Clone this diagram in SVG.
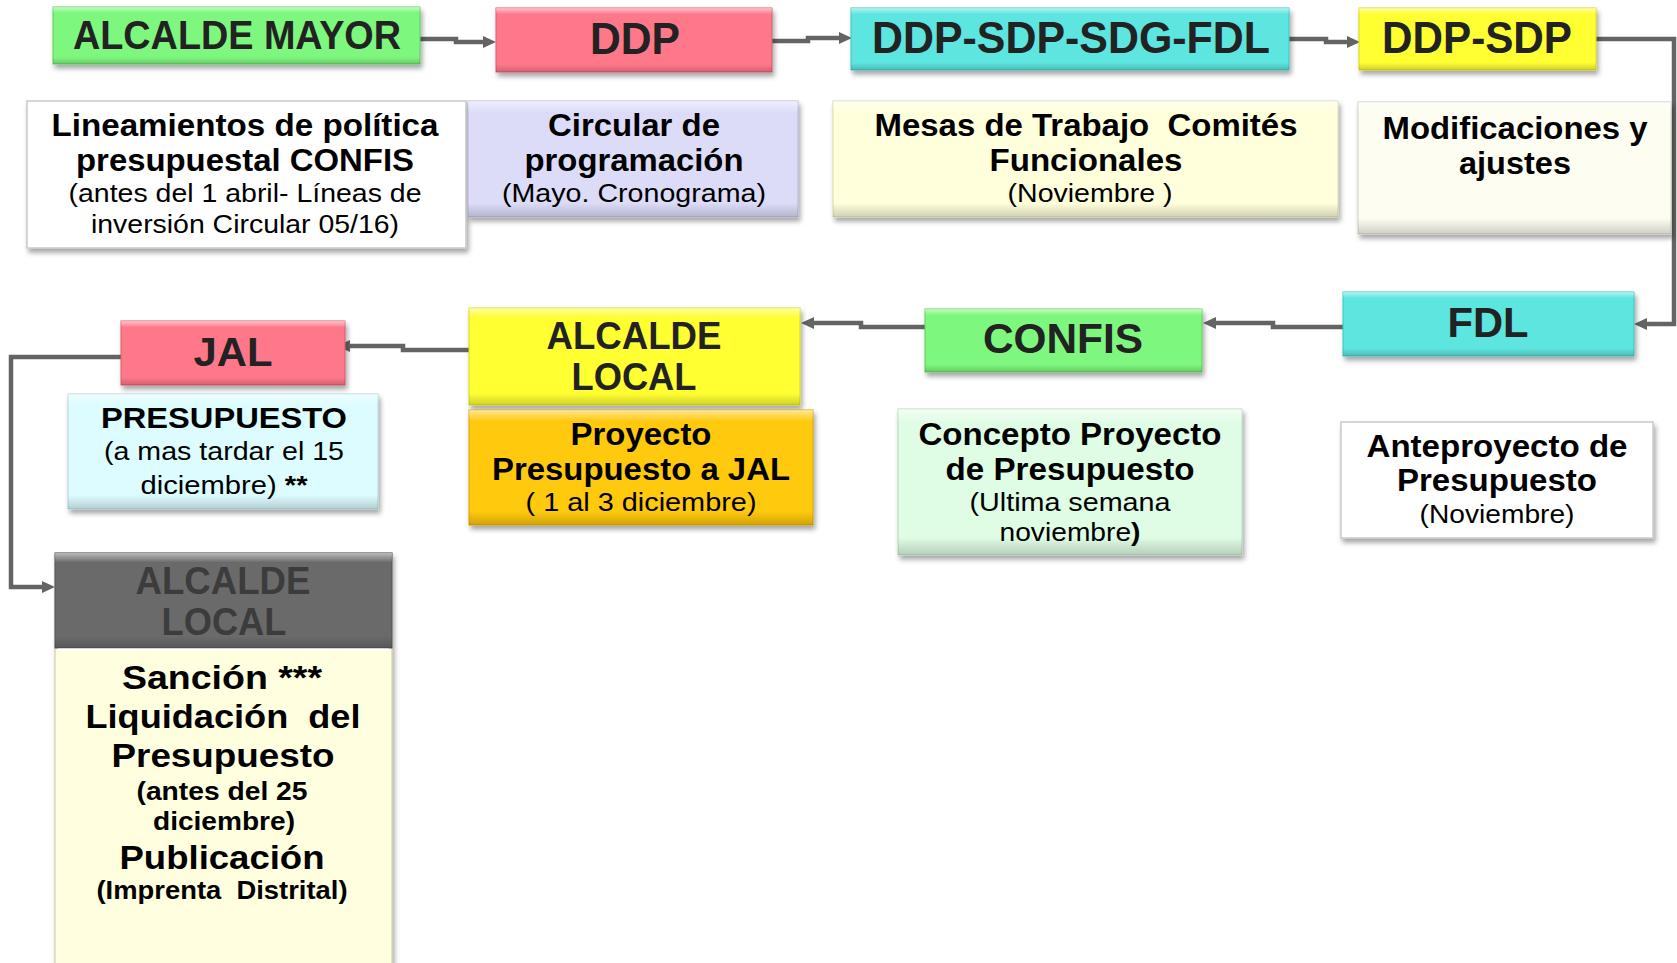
<svg xmlns="http://www.w3.org/2000/svg" width="1677" height="963" viewBox="0 0 1677 963">
<defs>
<style>
.t{font-family:"Liberation Sans",Arial,sans-serif;font-weight:bold;text-anchor:middle;fill:#000}
.h{fill:#222}
.r{font-weight:normal}
.g{fill:#3c3c3c}
.c{fill:none;stroke:#646464;stroke-width:4.5;marker-end:url(#ah)}
.bv{fill:url(#bevel)}
.tb{stroke:#c9c9c9;stroke-width:1.5}
</style>
<filter id="sh" x="-5%" y="-10%" width="115%" height="130%">
<feDropShadow dx="2" dy="4" stdDeviation="2.5" flood-color="#000" flood-opacity="0.35"/>
</filter>
<linearGradient id="bevel" x1="0" y1="0" x2="0" y2="1">
<stop offset="0" stop-color="#fff" stop-opacity="0.55"/>
<stop offset="0.1" stop-color="#fff" stop-opacity="0"/>
<stop offset="0.88" stop-color="#000" stop-opacity="0"/>
<stop offset="1" stop-color="#000" stop-opacity="0.18"/>
</linearGradient>
<marker id="ah" markerUnits="userSpaceOnUse" markerWidth="14" markerHeight="14" viewBox="0 0 14 14" refX="4" refY="7" orient="auto">
<path d="M0,1 L13,7 L0,13 z" fill="#646464"/>
</marker>
</defs>
<rect width="1677" height="963" fill="#fff"/>

<g id="connectors">
<path class="c" d="M420,39 H456 V42 H487"/>
<path class="c" d="M757,41 H808 V38 H843"/>
<path class="c" d="M1289,39 H1326 V42 H1351"/>
<path class="c" d="M1596,39 H1674 V324 H1643"/>
<path class="c" d="M1343,327 H1273 V323 H1212"/>
<path class="c" d="M925,327 H861 V323 H810"/>
<path class="c" d="M469,350 H403 V346 H346"/>
<path class="c" d="M121,357 H11 V587 H46"/>
</g>

<g id="alcalde-mayor">
<rect x="53" y="7" width="367" height="57" fill="#7ef77e" stroke="#5ccf5c" filter="url(#sh)"/>
<rect x="53" y="7" width="367" height="57" class="bv"/>
<text class="t h" x="237" y="49" font-size="40" textLength="328" lengthAdjust="spacingAndGlyphs">ALCALDE MAYOR</text>
</g>

<g id="ddp">
<rect x="496" y="8" width="276" height="64" fill="#ff7889" stroke="#d85a6a" filter="url(#sh)"/>
<rect x="496" y="8" width="276" height="64" class="bv"/>
<text class="t h" x="635" y="54" font-size="44" textLength="90" lengthAdjust="spacingAndGlyphs">DDP</text>
</g>

<g id="ddp-sdp-sdg-fdl">
<rect x="851" y="8" width="438" height="62" fill="#5de5df" stroke="#3fc3bd" filter="url(#sh)"/>
<rect x="851" y="8" width="438" height="62" class="bv"/>
<text class="t h" x="1071" y="53" font-size="44" textLength="398" lengthAdjust="spacingAndGlyphs">DDP-SDP-SDG-FDL</text>
</g>

<g id="ddp-sdp">
<rect x="1359" y="8" width="237" height="62" fill="#ffff33" stroke="#d8d820" filter="url(#sh)"/>
<rect x="1359" y="8" width="237" height="62" class="bv"/>
<text class="t h" x="1477" y="53" font-size="44" textLength="190" lengthAdjust="spacingAndGlyphs">DDP-SDP</text>
</g>

<g id="lineamientos">
<rect x="27" y="101" width="439" height="147" fill="#ffffff" class="tb" filter="url(#sh)"/>
<text class="t" x="245" y="136" font-size="31" textLength="387" lengthAdjust="spacingAndGlyphs">Lineamientos de política</text>
<text class="t" x="245" y="171" font-size="31" textLength="338" lengthAdjust="spacingAndGlyphs">presupuestal CONFIS</text>
<text class="t r" x="245" y="202" font-size="25" textLength="353" lengthAdjust="spacingAndGlyphs">(antes del 1 abril- Líneas de</text>
<text class="t r" x="245" y="233" font-size="25" textLength="308" lengthAdjust="spacingAndGlyphs">inversión Circular 05/16)</text>
</g>

<g id="circular">
<rect x="468" y="101" width="330" height="116" fill="#dcdcf8" stroke="#b5b5d8" filter="url(#sh)"/>
<rect x="468" y="101" width="330" height="116" class="bv"/>
<text class="t" x="634" y="136" font-size="31" textLength="172" lengthAdjust="spacingAndGlyphs">Circular de</text>
<text class="t" x="634" y="171" font-size="31" textLength="219" lengthAdjust="spacingAndGlyphs">programación</text>
<text class="t r" x="634" y="202" font-size="25" textLength="264" lengthAdjust="spacingAndGlyphs">(Mayo. Cronograma)</text>
</g>

<g id="mesas">
<rect x="833" y="101" width="505" height="116" fill="#ffffdc" stroke="#d8d8b0" filter="url(#sh)"/>
<rect x="833" y="101" width="505" height="116" class="bv"/>
<text class="t" x="1086" y="136" font-size="31" textLength="423" lengthAdjust="spacingAndGlyphs">Mesas de Trabajo&#160; Comités</text>
<text class="t" x="1086" y="171" font-size="31" textLength="193" lengthAdjust="spacingAndGlyphs">Funcionales</text>
<text class="t r" x="1090" y="202" font-size="25" textLength="165" lengthAdjust="spacingAndGlyphs">(Noviembre )</text>
</g>

<g id="modificaciones">
<rect x="1358" y="102" width="313" height="132" fill="#fdfdf1" stroke="#d0d0c4" filter="url(#sh)"/>
<rect x="1358" y="102" width="313" height="132" class="bv"/>
<text class="t" x="1515" y="139" font-size="31" textLength="265" lengthAdjust="spacingAndGlyphs">Modificaciones y</text>
<text class="t" x="1515" y="174" font-size="31" textLength="112" lengthAdjust="spacingAndGlyphs">ajustes</text>
</g>

<g id="fdl">
<rect x="1343" y="292" width="291" height="64" fill="#5de5df" stroke="#3fc3bd" filter="url(#sh)"/>
<rect x="1343" y="292" width="291" height="64" class="bv"/>
<text class="t h" x="1488" y="337" font-size="42" textLength="81" lengthAdjust="spacingAndGlyphs">FDL</text>
</g>

<g id="confis">
<rect x="925" y="309" width="277" height="63" fill="#7ef77e" stroke="#5ccf5c" filter="url(#sh)"/>
<rect x="925" y="309" width="277" height="63" class="bv"/>
<text class="t h" x="1063" y="353" font-size="42" textLength="160" lengthAdjust="spacingAndGlyphs">CONFIS</text>
</g>

<g id="alcalde-local">
<rect x="469" y="308" width="331" height="97" fill="#ffff33" stroke="#d8d820" filter="url(#sh)"/>
<rect x="469" y="308" width="331" height="97" class="bv"/>
<text class="t h" x="634" y="349" font-size="38" textLength="175" lengthAdjust="spacingAndGlyphs">ALCALDE</text>
<text class="t h" x="634" y="390" font-size="38" textLength="125" lengthAdjust="spacingAndGlyphs">LOCAL</text>
</g>

<g id="proyecto">
<rect x="469" y="410" width="344" height="115" fill="#ffc90e" stroke="#d9a400" filter="url(#sh)"/>
<rect x="469" y="410" width="344" height="115" class="bv"/>
<text class="t" x="641" y="445" font-size="31" textLength="141" lengthAdjust="spacingAndGlyphs">Proyecto</text>
<text class="t" x="641" y="480" font-size="31" textLength="298" lengthAdjust="spacingAndGlyphs">Presupuesto a JAL</text>
<text class="t r" x="641" y="511" font-size="25" textLength="231" lengthAdjust="spacingAndGlyphs">( 1 al 3 diciembre)</text>
</g>

<g id="jal">
<rect x="121" y="321" width="224" height="64" fill="#ff7889" stroke="#d85a6a" filter="url(#sh)"/>
<rect x="121" y="321" width="224" height="64" class="bv"/>
<text class="t h" x="233" y="366" font-size="40" textLength="79" lengthAdjust="spacingAndGlyphs">JAL</text>
</g>

<g id="presupuesto">
<rect x="68" y="394" width="310" height="115" fill="#dcfcff" stroke="#b0d4d8" filter="url(#sh)"/>
<rect x="68" y="394" width="310" height="115" class="bv"/>
<text class="t" x="224" y="428" font-size="30" textLength="246" lengthAdjust="spacingAndGlyphs">PRESUPUESTO</text>
<text class="t r" x="224" y="460" font-size="25" textLength="240" lengthAdjust="spacingAndGlyphs">(a mas tardar el 15</text>
<text class="t r" x="224" y="494" font-size="25" textLength="167" lengthAdjust="spacingAndGlyphs">diciembre) <tspan font-weight="bold">**</tspan></text>
</g>

<g id="concepto">
<rect x="898" y="409" width="344" height="146" fill="#dffce4" stroke="#b4d8ba" filter="url(#sh)"/>
<rect x="898" y="409" width="344" height="146" class="bv"/>
<text class="t" x="1070" y="445" font-size="31" textLength="303" lengthAdjust="spacingAndGlyphs">Concepto Proyecto</text>
<text class="t" x="1070" y="480" font-size="31" textLength="249" lengthAdjust="spacingAndGlyphs">de Presupuesto</text>
<text class="t r" x="1070" y="511" font-size="25" textLength="201" lengthAdjust="spacingAndGlyphs">(Ultima semana</text>
<text class="t r" x="1070" y="541" font-size="25" textLength="141" lengthAdjust="spacingAndGlyphs">noviembre<tspan font-weight="bold">)</tspan></text>
</g>

<g id="anteproyecto">
<rect x="1341" y="422" width="312" height="116" fill="#ffffff" class="tb" filter="url(#sh)"/>
<text class="t" x="1497" y="457" font-size="31" textLength="261" lengthAdjust="spacingAndGlyphs">Anteproyecto de</text>
<text class="t" x="1497" y="491" font-size="31" textLength="200" lengthAdjust="spacingAndGlyphs">Presupuesto</text>
<text class="t r" x="1497" y="523" font-size="25" textLength="155" lengthAdjust="spacingAndGlyphs">(Noviembre)</text>
</g>

<g id="alcalde-local-sancion">
<rect x="55" y="553" width="337" height="420" fill="#ffffdf" stroke="#c8c8a8" filter="url(#sh)"/>
<rect x="55" y="553" width="337" height="95" fill="#6a6a6a" stroke="#555"/>
<rect x="55" y="553" width="337" height="95" class="bv"/>
<line x1="58" y1="649.5" x2="389" y2="649.5" stroke="#fff" stroke-width="2"/>
<text class="t g" x="223" y="594" font-size="38" textLength="175" lengthAdjust="spacingAndGlyphs">ALCALDE</text>
<text class="t g" x="224" y="635" font-size="38" textLength="125" lengthAdjust="spacingAndGlyphs">LOCAL</text>
<text class="t" x="222" y="689" font-size="34" textLength="200" lengthAdjust="spacingAndGlyphs">Sanción ***</text>
<text class="t" x="223" y="728" font-size="34" textLength="275" lengthAdjust="spacingAndGlyphs">Liquidación&#160; del</text>
<text class="t" x="223" y="767" font-size="34" textLength="223" lengthAdjust="spacingAndGlyphs">Presupuesto</text>
<text class="t" x="222" y="800" font-size="26" textLength="171" lengthAdjust="spacingAndGlyphs">(antes del 25</text>
<text class="t" x="224" y="830" font-size="26" textLength="142" lengthAdjust="spacingAndGlyphs">diciembre)</text>
<text class="t" x="222" y="869" font-size="34" textLength="205" lengthAdjust="spacingAndGlyphs">Publicación</text>
<text class="t" x="222" y="899" font-size="26" textLength="251" lengthAdjust="spacingAndGlyphs">(Imprenta&#160; Distrital)</text>
</g>
</svg>
